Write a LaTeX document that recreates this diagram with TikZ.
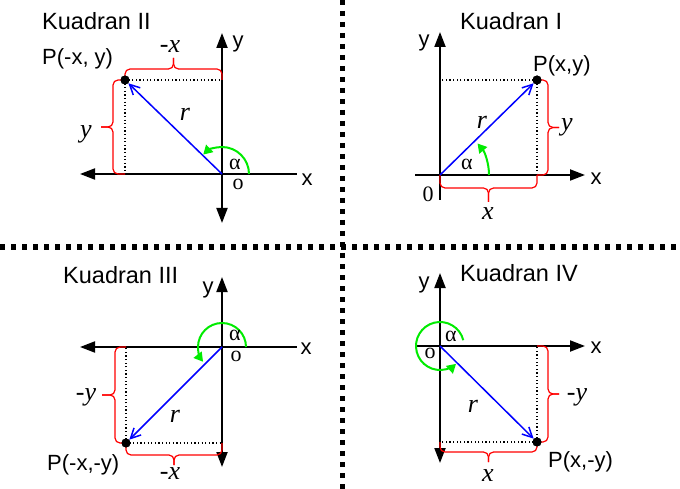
\documentclass[tikz,border=0pt]{standalone}
\usepackage{fontspec}
\setmainfont{Liberation Serif}
\newfontfamily\sansf{Liberation Sans}
\usetikzlibrary{arrows.meta,calc}
\definecolor{agreen}{RGB}{0,235,0}
\tikzset{
  axis/.style={line width=2pt, draw=black},
  >={Triangle[length=15pt,width=11pt]},
  vec/.style={draw=blue, line width=1.5pt, -{Straight Barb[length=10pt,width=10pt]}},
  ang/.style={draw=agreen, line width=2pt, -{Triangle[length=9pt,width=10pt]}},
  brc/.style={draw=red, line width=1.2pt, rounded corners=5pt},
  dots/.style={line width=1.2pt, dash pattern=on 1.2pt off 2.4pt},
  sepline/.style={line width=5pt, dash pattern=on 5pt off 6pt},
  pdot/.style={circle, fill=black, inner sep=0pt, minimum size=9pt},
  lbl/.style={font=\sansf\fontsize{22}{26}\selectfont, inner sep=0pt},
  ttl/.style={font=\sansf\fontsize{23.5}{27}\selectfont, inner sep=0pt},
  ital/.style={font=\fontsize{26}{30}\selectfont\itshape, inner sep=0pt},
  rom/.style={font=\fontsize{22}{26}\selectfont, inner sep=0pt, text height=0.44em, text depth=0pt},
  dig/.style={font=\fontsize{22}{26}\selectfont, inner sep=0pt},
}
% curly brace from #1 to #2, bulging to the left of the direction #1->#2
% #3 = height of the straight part, #4 = height of the tip
\newcommand{\qbrace}[4]{%
  \path ($(#1)!0.5!(#2)$) coordinate (bm);
  \path ($(#1)!#3!90:(#2)$) coordinate (ba);
  \path ($(#2)!#3!-90:(#1)$) coordinate (bb);
  \path ($(bm)!#3!90:(#2)$) coordinate (bh);
  \path ($(bm)!#4!90:(#2)$) coordinate (bt);
  \draw[brc] (#1) -- (ba) -- (bh) -- (bt);
  \draw[brc] (#2) -- (bb) -- (bh) -- (bt);
}
\begin{document}
\begin{tikzpicture}[x=1pt,y=-1pt]
\useasboundingbox (0,0) rectangle (680,489);
% separators
\coordinate (St) at (342.5,0); \coordinate (Sb) at (342.5,489);
\coordinate (Sl) at (0,247); \coordinate (Sr) at (680,247);
\draw[sepline] (St) -- (Sb);
\draw[sepline] (Sl) -- (Sr);

% ---------- Quadrant II ----------
\coordinate (O2) at (222,174);
\coordinate (X2l) at (80,174); \coordinate (X2r) at (297,174);
\coordinate (Y2t) at (222,33); \coordinate (Y2b) at (222,223);
\draw[axis,<-] (X2l) -- (X2r);
\draw[axis,<->] (Y2b) -- (Y2t);
\node[pdot] (P2) at (125,80) {};
\coordinate (P2x) at (P2.center -| O2);
\coordinate (P2y) at (P2.center |- O2);
\draw[dots] (P2.center) -- (P2x);
\draw[dots] (P2.center) -- (P2y);
\qbrace{P2.center}{P2x}{11pt}{22pt}
\qbrace{P2y}{P2.center}{12pt}{24pt}
\node[pdot] at (P2) {};
\draw[vec] (O2) -- (P2);
\draw[ang] ([shift={(0:27)}]O2) arc[start angle=0,end angle=-134,radius=27];
\node[ttl,anchor=base west] (K2) at (42,30) {Kuadran II};
\node[lbl,anchor=base west] (L2) at (42,65) {P(-x, y)};
\node[lbl] (y2) at (238,44) {y};
\node[lbl] (x2) at (307,180) {x};
\node[ital] (bx2) at (170,47) {-x};
\node[ital] (by2) at (86,134) {y};
\node[ital] (r2) at (185,114) {r};
\node[rom] (a2) at (235,167) {α};
\node[rom] (o2) at (238,187) {o};

% ---------- Quadrant I ----------
\coordinate (O1) at (440,175);
\coordinate (X1l) at (415,175); \coordinate (X1r) at (585,175);
\coordinate (Y1t) at (440,32); \coordinate (Y1b) at (440,200);
\draw[axis,->] (X1l) -- (X1r);
\draw[axis,->] (Y1b) -- (Y1t);
\node[pdot] (P1) at (537,80) {};
\coordinate (P1x) at (P1.center |- O1);
\coordinate (P1y) at (P1.center -| O1);
\draw[dots] (P1.center) -- (P1y);
\draw[dots] (P1.center) -- (P1x);
\qbrace{P1x}{O1}{13pt}{27pt}
\qbrace{P1.center}{P1x}{11pt}{22pt}
\node[pdot] at (P1) {};
\draw[vec] (O1) -- (P1);
\draw[ang] ([shift={(0:49)}]O1) arc[start angle=0,end angle=-40,radius=49];
\node[ttl,anchor=base west] (K1) at (460,30) {Kuadran I};
\node[lbl,anchor=base west] (L1) at (533,72) {P(x,y)};
\node[lbl] (y1) at (424,43) {y};
\node[lbl] (x1) at (596,179) {x};
\node[ital] (bx1) at (488,214) {x};
\node[ital] (by1) at (567,127) {y};
\node[ital] (r1) at (482,122) {r};
\node[rom] (a1) at (467,167) {α};
\node[dig] (z1) at (428,194) {0};

% ---------- Quadrant III ----------
\coordinate (O3) at (222,347);
\coordinate (X3l) at (80,347); \coordinate (X3r) at (297,347);
\coordinate (Y3t) at (222,277); \coordinate (Y3b) at (222,467);
\draw[axis,<-] (X3l) -- (X3r);
\draw[axis,<->] (Y3b) -- (Y3t);
\node[pdot] (P3) at (126,443) {};
\coordinate (P3x) at (P3.center -| O3);
\coordinate (P3y) at (P3.center |- O3);
\draw[dots] (P3.center) -- (P3x);
\draw[dots] (P3.center) -- (P3y);
\qbrace{P3.center}{P3y}{11pt}{24pt}
\qbrace{P3x}{P3.center}{12pt}{22pt}
\node[pdot] at (P3) {};
\draw[vec] (O3) -- (P3);
\draw[ang] ([shift={(0:24)}]O3) arc[start angle=0,end angle=-218,radius=24];
\node[ttl,anchor=base west] (K3) at (63,283) {Kuadran III};
\node[lbl,anchor=base west] (L3) at (47,470) {P(-x,-y)};
\node[lbl] (y3) at (208,290) {y};
\node[lbl] (x3) at (306,349) {x};
\node[ital] (bx3) at (170,474) {-x};
\node[ital] (by3) at (86,397) {-y};
\node[ital] (r3) at (175,416) {r};
\node[rom] (a3) at (235,338) {α};
\node[rom] (o3) at (236,359) {o};

% ---------- Quadrant IV ----------
\coordinate (O4) at (440,346);
\coordinate (X4l) at (415,346); \coordinate (X4r) at (585,346);
\coordinate (Y4t) at (440,273); \coordinate (Y4b) at (440,463);
\draw[axis,->] (X4l) -- (X4r);
\draw[axis,<->] (Y4b) -- (Y4t);
\node[pdot] (P4) at (537,442) {};
\coordinate (P4x) at (P4.center |- O4);
\coordinate (P4y) at (P4.center -| O4);
\draw[dots] (P4.center) -- (P4y);
\draw[dots] (P4.center) -- (P4x);
\qbrace{P4x}{P4.center}{11pt}{22pt}
\qbrace{P4.center}{P4y}{10pt}{20pt}
\node[pdot] at (P4) {};
\draw[vec] (O4) -- (P4);
\draw[ang] ([shift={(-14:24)}]O4) arc[start angle=-14,end angle=-312,radius=24];
\node[ttl,anchor=base west] (K4) at (460,281) {Kuadran IV};
\node[lbl,anchor=base west] (L4) at (548,467) {P(x,-y)};
\node[lbl] (y4) at (424,285) {y};
\node[lbl] (x4) at (596,348) {x};
\node[ital] (bx4) at (488,476) {x};
\node[ital] (by4) at (577,397) {-y};
\node[ital] (r4) at (473,406) {r};
\node[rom] (a4) at (451,339) {α};
\node[rom] (o4) at (430,356) {o};
\end{tikzpicture}
\end{document}
